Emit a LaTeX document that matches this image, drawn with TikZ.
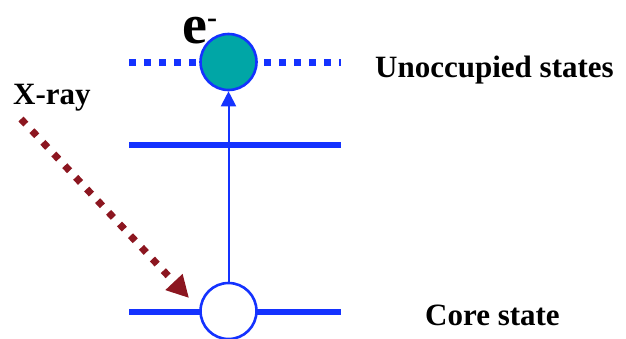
\documentclass[tikz,border=0pt]{standalone}
\usepackage{fontspec}
\setmainfont{Liberation Serif}
\usetikzlibrary{arrows.meta}
\definecolor{lvlblue}{RGB}{20,50,255}
\definecolor{elteal}{RGB}{0,166,166}
\definecolor{xred}{RGB}{140,22,32}
\tikzset{
  level/.style={lvlblue, line width=6.5pt},
  dotlevel/.style={lvlblue, line width=7pt, dash pattern=on 7.3pt off 7.7pt},
  statecirc/.style={circle, draw=lvlblue, line width=2.6pt, minimum size=56pt, inner sep=0pt},
  lbl/.style={font=\fontsize{31}{31}\selectfont\bfseries, inner sep=0pt, anchor=base west},
  xarrow/.style={xred, line width=7pt, dash pattern=on 7pt off 9pt, -{Triangle[length=22pt,width=22pt]}},
  excite/.style={lvlblue, line width=2pt, -{Triangle[length=15pt,width=15pt]}}
}
\begin{document}
\begin{tikzpicture}[x=1pt,y=-1pt]
\useasboundingbox (0,0) rectangle (626,338);
% levels
\draw[dotlevel] (129,62) -- (341,62);
\draw[level] (129,145) -- (341,145);
\draw[level] (129,312) -- (341,312);
% states
\node[statecirc, fill=elteal] (elec) at (228.5,62) {};
\node[statecirc, fill=white] (core) at (228.5,311) {};
\draw[excite] (core.north) -- (elec.south);
% labels
\node[lbl, font=\fontsize{56}{40}\selectfont\bfseries] (e) at (182,43) {e\raisebox{16pt}{\fontsize{30}{30}\selectfont -}};
\node[lbl] (unocc) at (375,77) {Unoccupied states};
\node[lbl] (corelbl) at (425,325) {Core state};
\node[lbl] (xray) at (13,104) {X-ray};
% x-ray arrow
\coordinate (xs) at (21,119);
\coordinate (xe) at (189,298);
\draw[xarrow] (xs) -- (xe);
\end{tikzpicture}
\end{document}
